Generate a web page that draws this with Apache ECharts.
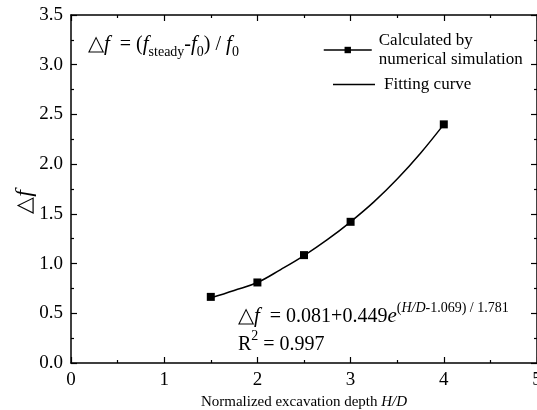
<!DOCTYPE html>
<html><head><meta charset="utf-8">
<script src="https://cdn.jsdelivr.net/npm/echarts@6/dist/echarts.min.js"></script>
<style>html,body{margin:0;padding:0;background:#fff}#c{width:537px;height:410px}</style>
</head><body><div id="c"></div>
<script>
// Simulation points
var simX = [1.5, 2, 2.5, 3, 4];
var simY = [0.665, 0.81, 1.085, 1.42, 2.40];
// Fitting curve points
var fitX = [1.5, 1.75, 2, 2.25, 2.5, 2.75, 3, 3.25, 3.5, 3.75, 4];
var fitY = [0.655, 0.73, 0.81, 0.94, 1.08, 1.24, 1.42, 1.62, 1.85, 2.11, 2.40];
var xTicks = [0, 1, 2, 3, 4, 5];
var yTicks = [0.0, 0.5, 1.0, 1.5, 2.0, 2.5, 3.0, 3.5];

var FONT = 'Liberation Serif';
var chart = echarts.init(document.getElementById('c'), null, {renderer: 'canvas'});
var axisCommon = {
  axisLine: {show: true, onZero: false, lineStyle: {color: '#000', width: 1.5}},
  axisTick: {show: true, inside: true, length: 6, lineStyle: {color: '#000', width: 1.2}},
  minorTick: {show: true, splitNumber: 2, length: 3, lineStyle: {color: '#000', width: 1.2}},
  splitLine: {show: false}
};
chart.setOption({
  animation: false,
  backgroundColor: '#fff',
  grid: {left: 71, right: 0, top: 15, bottom: 47, containLabel: false, outerBoundsMode: 'none'},
  xAxis: [
    Object.assign({type: 'value', min: 0, max: 5, interval: 1, position: 'bottom',
      name: 'Normalized excavation depth {i|H/D}', nameLocation: 'middle', nameGap: 32,
      nameTextStyle: {fontFamily: FONT, fontSize: 15, color: '#000', rich: {i: {fontFamily: FONT, fontSize: 15, fontStyle: 'italic', color: '#000'}}},
      axisLabel: {fontFamily: FONT, fontSize: 19, color: '#000', margin: 8,
        formatter: function (v) { return xTicks.indexOf(v) >= 0 ? String(v) : ''; }}
    }, axisCommon),
    Object.assign({type: 'value', min: 0, max: 5, interval: 1, position: 'top', axisLabel: {show: false}}, axisCommon)
  ],
  yAxis: [
    Object.assign({type: 'value', min: 0, max: 3.5, interval: 0.5, position: 'left',
      name: '{a|\u25B3}{b|f}', nameLocation: 'middle', nameGap: 34, nameRotate: 90, nameMoveOverlap: false,
      nameTextStyle: {padding: [0, 26, 0, 0], rich: {a: {fontFamily: FONT, fontSize: 22, color: '#000'}, b: {fontFamily: FONT, fontSize: 24, fontStyle: 'italic', color: '#000'}}},
      axisLabel: {fontFamily: FONT, fontSize: 19, color: '#000', margin: 8,
        formatter: function (v) { return v.toFixed(1); }}
    }, axisCommon),
    Object.assign({type: 'value', min: 0, max: 3.5, interval: 0.5, position: 'right', axisLabel: {show: false}}, axisCommon)
  ],
  legend: [
    {left: 318, top: 21, orient: 'vertical', itemWidth: 48, itemHeight: 8,
      data: [{name: 'sim', lineStyle: {width: 1.5, color: '#000', opacity: 1}}],
      formatter: function () { return 'Calculated by\nnumerical simulation'; },
      textStyle: {fontFamily: FONT, fontSize: 17, color: '#000', lineHeight: 19, padding: [10, 0, 0, 2]},
      itemGap: 6},
    {left: 328, top: 71, orient: 'vertical', itemWidth: 42, itemHeight: 1.5,
      data: [{name: 'fit', icon: 'rect', itemStyle: {color: '#000'}}],
      formatter: function () { return 'Fitting curve'; },
      textStyle: {fontFamily: FONT, fontSize: 17, color: '#000', padding: [0, 0, 0, 4]}}
  ],
  series: [
    {name: 'fit', type: 'line', smooth: 0.4, showSymbol: false, symbol: 'none',
      data: fitX.map(function (x, i) { return [x, fitY[i]]; }),
      lineStyle: {color: '#000', width: 1.5}, itemStyle: {color: '#000'}, z: 2},
    {name: 'sim', type: 'line', symbol: 'rect', symbolSize: 8,
      data: simX.map(function (x, i) { return [x, simY[i]]; }),
      lineStyle: {width: 0, opacity: 0}, itemStyle: {color: '#000'}, z: 3}
  ],
  graphic: [
    {type: 'text', left: 88, top: 34, z: 10, style: {
      text: '{d|\u25B3}{i|f}{n|  = (}{i|f}{s|steady}{n|-}{i|f}{s|0}{n|) / }{i|f}{s|0}',
      rich: {
        d: {fontFamily: FONT, fontSize: 21, color: '#000', lineHeight: 30, verticalAlign: 'middle'},
        n: {fontFamily: FONT, fontSize: 20, color: '#000', lineHeight: 30, verticalAlign: 'middle'},
        i: {fontFamily: FONT, fontSize: 21, fontStyle: 'italic', color: '#000', lineHeight: 30, verticalAlign: 'middle'},
        s: {fontFamily: FONT, fontSize: 14, color: '#000', lineHeight: 14, verticalAlign: 'bottom'}
      }}},
    {type: 'text', left: 238, top: 301, z: 10, style: {
      text: '{d|\u25B3}{i|f}{n|  = 0.081+0.449}{i|e}{p|(}{pi|H/D}{p|-1.069) / 1.781}',
      rich: {
        d: {fontFamily: FONT, fontSize: 21, color: '#000', lineHeight: 26, verticalAlign: 'bottom'},
        n: {fontFamily: FONT, fontSize: 20, color: '#000', lineHeight: 26, verticalAlign: 'bottom'},
        i: {fontFamily: FONT, fontSize: 21, fontStyle: 'italic', color: '#000', lineHeight: 26, verticalAlign: 'bottom'},
        p: {fontFamily: FONT, fontSize: 14, color: '#000', lineHeight: 14, verticalAlign: 'top'},
        pi: {fontFamily: FONT, fontSize: 14, fontStyle: 'italic', color: '#000', lineHeight: 14, verticalAlign: 'top'}
      }}},
    {type: 'text', left: 238, top: 329, z: 10, style: {
      text: '{n|R}{p|2}{n| = 0.997}',
      rich: {
        n: {fontFamily: FONT, fontSize: 20, color: '#000', lineHeight: 26, verticalAlign: 'bottom'},
        p: {fontFamily: FONT, fontSize: 14, color: '#000', lineHeight: 14, verticalAlign: 'top'}
      }}}
  ]
});
</script></body></html>
